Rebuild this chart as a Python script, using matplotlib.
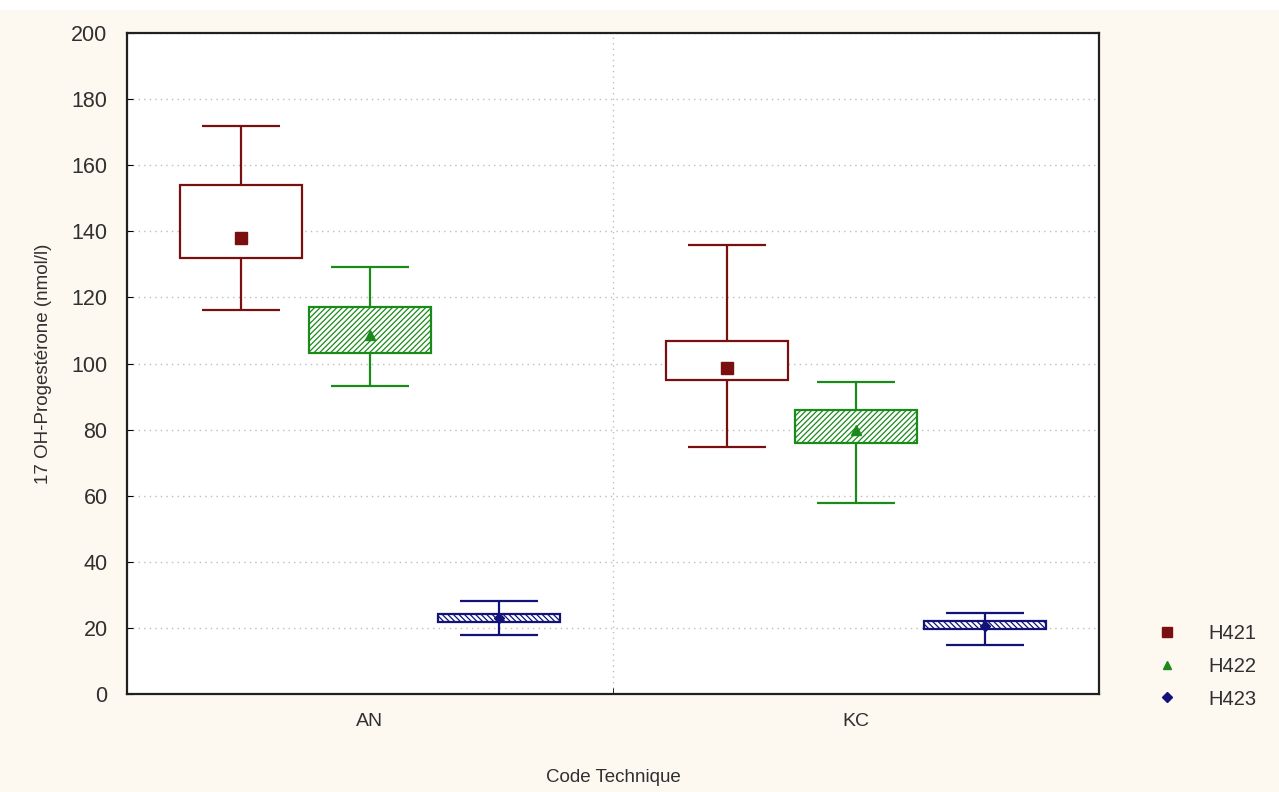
import matplotlib
matplotlib.use("Agg")
import matplotlib.pyplot as plt
from matplotlib.patches import Rectangle
from matplotlib.lines import Line2D
import numpy as np

plt.rcParams['font.family'] = ['Liberation Sans', 'DejaVu Sans']

categories = ["AN", "KC"]
series = ["H421", "H422", "H423"]
# per series: values for [AN, KC]
means     = {"H421": [138.0, 98.5], "H422": [108.5, 80.0], "H423": [23.0, 20.5]}
box_lo    = {"H421": [132.0, 95.0], "H422": [103.3, 76.0], "H423": [21.8, 19.8]}
box_hi    = {"H421": [154.0, 106.8], "H422": [117.0, 86.0], "H423": [24.2, 22.0]}
whisk_lo  = {"H421": [116.3, 74.7], "H422": [93.3, 57.7], "H423": [18.0, 14.8]}
whisk_hi  = {"H421": [171.8, 135.8], "H422": [129.3, 94.5], "H423": [28.0, 24.5]}
y_ticks = [0, 20, 40, 60, 80, 100, 120, 140, 160, 180, 200]

colors = {"H421": "#7a0f0f", "H422": "#1a8a1a", "H423": "#12127a"}
markers = {"H421": "s", "H422": "^", "H423": "D"}
msize = {"H421": 8.5, "H422": 7, "H423": 5.5}
hatches = {"H421": None, "H422": "//////", "H423": "\\\\\\\\\\\\"}
offsets = {"H421": -0.265, "H422": 0.0, "H423": 0.265}
box_w = 0.25
cap_w = 0.16
text_col = "#303030"

fig = plt.figure(figsize=(12.79, 7.92), dpi=100)
fig.patch.set_facecolor("#fdf9f0")
fig.patches.append(Rectangle((0, 1 - 10/792), 1, 10/792, transform=fig.transFigure,
                             facecolor="white", edgecolor="none", zorder=0))
ax = fig.add_axes([127/1279, 1 - 694/792, (1099-127)/1279, (694-33)/792])
ax.set_facecolor("white")

x = np.arange(len(categories))
for s in series:
    c = colors[s]
    xs = x + offsets[s]
    lo = np.array(box_lo[s]); hi = np.array(box_hi[s])
    ax.vlines(xs, whisk_lo[s], lo, color=c, lw=1.6, zorder=3)
    ax.vlines(xs, hi, whisk_hi[s], color=c, lw=1.6, zorder=3)
    ax.hlines(whisk_lo[s], xs - cap_w/2, xs + cap_w/2, color=c, lw=1.6, zorder=3)
    ax.hlines(whisk_hi[s], xs - cap_w/2, xs + cap_w/2, color=c, lw=1.6, zorder=3)
    plt.rcParams['hatch.color'] = c
    plt.rcParams['hatch.linewidth'] = 0.9
    ax.bar(xs, hi - lo, bottom=lo, width=box_w, facecolor="white", edgecolor=c,
           lw=1.6, hatch=hatches[s], zorder=3)
    if s == "H423":
        ax.vlines(xs, lo, hi, color=c, lw=1.6, zorder=4)
    ax.plot(xs, means[s], linestyle="none", marker=markers[s], ms=msize[s],
            color=c, mec=c, zorder=5)

ax.set_xlim(-0.5, 1.5)
ax.set_ylim(0, 200)
ax.set_yticks(y_ticks)
ax.set_xticks(x)
ax.set_xticklabels(categories)
ax.set_xticks([0.5], minor=True)
ax.tick_params(axis="x", which="major", length=0, labelsize=14, pad=14, labelcolor=text_col)
ax.tick_params(axis="x", which="minor", length=4, direction="in")
ax.tick_params(axis="y", direction="in", length=4, labelsize=15.5, pad=14, labelcolor=text_col)
ax.grid(True, axis="y", linestyle=(0, (1, 3)), color="#bdbdbd", lw=1.0, zorder=0)
ax.axvline(0.5, linestyle=(0, (1, 3)), color="#bdbdbd", lw=1.0, zorder=0)
for sp in ax.spines.values():
    sp.set_linewidth(1.6)
    sp.set_color("#202020")

ax.set_ylabel("17 OH-Progestérone (nmol/l)", fontsize=13.5, labelpad=14, color=text_col)
ax.set_xlabel("Code Technique", fontsize=13.5, labelpad=28, color=text_col)

handles = [Line2D([], [], linestyle="none", marker=markers[s], ms=msize[s] * 0.9,
                  color=colors[s]) for s in series]
leg = fig.legend(handles, series, loc="upper left", bbox_to_anchor=(1134/1279, 1 - 606/792),
                 frameon=False, fontsize=14.5, handletextpad=1.3, labelspacing=0.68,
                 handlelength=1.5)
for t in leg.get_texts():
    t.set_color(text_col)

fig.savefig("out.png", dpi=100, facecolor=fig.get_facecolor())
